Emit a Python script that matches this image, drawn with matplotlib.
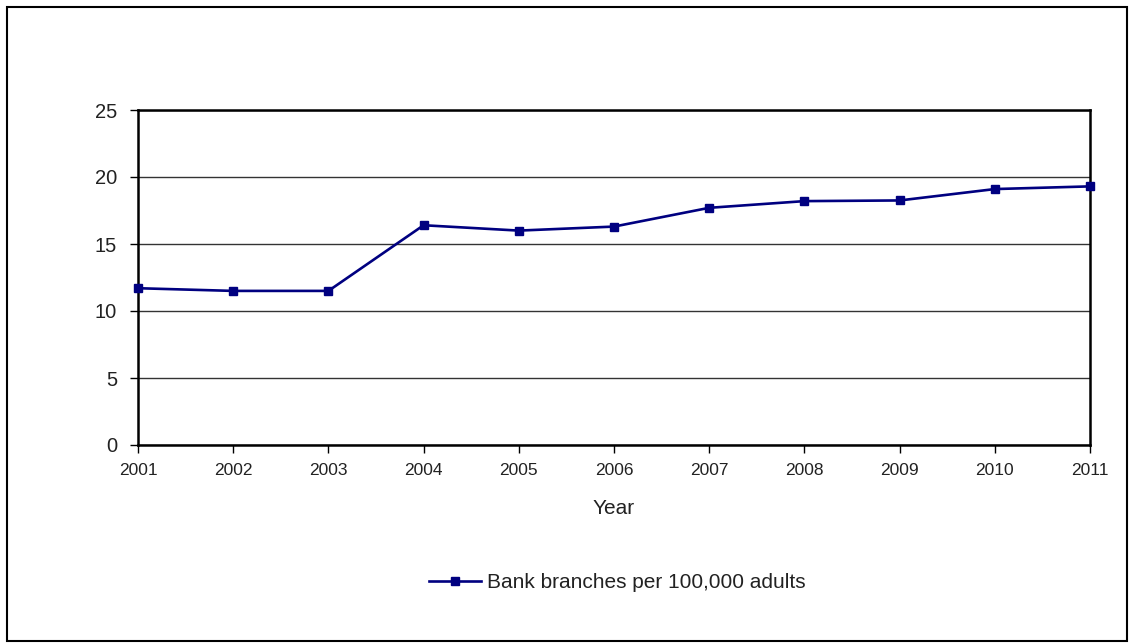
import matplotlib.pyplot as plt
from matplotlib.patches import Rectangle

years = [2001, 2002, 2003, 2004, 2005, 2006, 2007, 2008, 2009, 2010, 2011]
branches = [11.7, 11.5, 11.5, 16.4, 16.0, 16.3, 17.7, 18.2, 18.25, 19.1, 19.3]
series_label = "Bank branches per 100,000 adults"

plt.rcParams['font.family'] = ['Liberation Sans', 'DejaVu Sans']

W, H = 1129, 643
fig = plt.figure(figsize=(W / 100, H / 100), dpi=100)
ax = fig.add_axes([138 / W, 1 - 445 / H, (1090 - 138) / W, (445 - 110) / H])

line, = ax.plot(years, branches, color='#000080', lw=1.9, marker='s', ms=5.5,
                clip_on=False, zorder=5)

ax.set_xlim(2001, 2011)
ax.set_ylim(0, 25)
ax.set_xticks(years)
ax.set_yticks(range(0, 26, 5))
ax.grid(axis='y', color='#333333', lw=1)
ax.set_axisbelow(True)
for s in ax.spines.values():
    s.set_linewidth(1.8)
    s.set_color('black')
ax.tick_params(axis='y', labelsize=14.5, length=6, width=1, pad=9)
ax.tick_params(axis='x', labelsize=12.5, length=6, width=1, pad=7)
ax.tick_params(colors='black', which='both', labelcolor='#222222')
ax.set_xlabel('Year', fontsize=15, color='#222222', labelpad=15)

fig.legend([line], [series_label], loc='center', bbox_to_anchor=(617 / W, 1 - 583 / H),
           frameon=False, fontsize=15, handlelength=2.5, handletextpad=0.3,
           labelcolor='#222222')

fig.patches.append(Rectangle((7 / W, 2 / H), (1127 - 7) / W, (641 - 7) / H,
                             transform=fig.transFigure, fill=False,
                             edgecolor='black', lw=1.5))

fig.savefig('out.png', dpi=100)
